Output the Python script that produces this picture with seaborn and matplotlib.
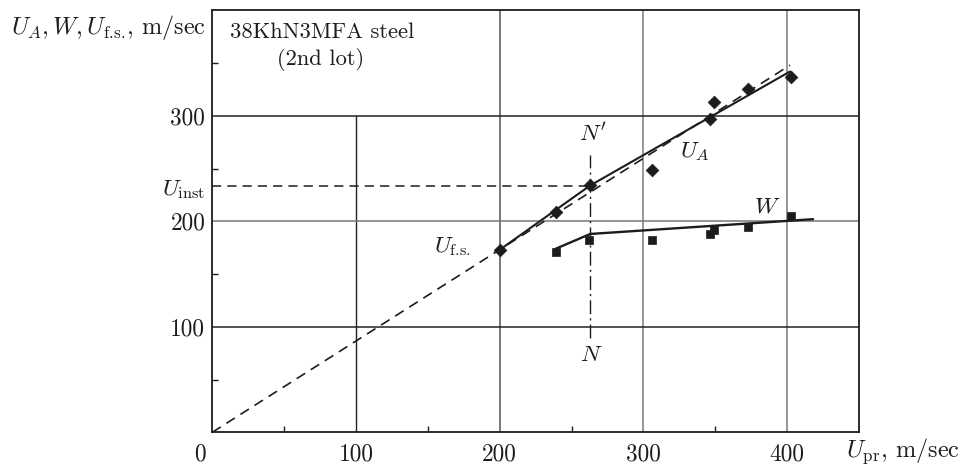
import matplotlib
matplotlib.use("Agg")
import matplotlib.pyplot as plt
import seaborn as sns
import pandas as pd

# Measured points: U_A (diamonds) and W (squares) against projectile velocity
ua_x = [200, 239, 263, 306, 346, 349, 373, 403]
ua_y = [173, 209, 234, 249, 297, 313, 325, 337]
w_x = [239, 262, 306, 346, 349, 373, 403]
w_y = [171, 182, 182, 188, 192, 195, 205]

# Fitted curves
ua_fit_x = [200, 263, 402]
ua_fit_y = [173, 234, 342]
w_fit_x = [239, 263, 418]
w_fit_y = [174, 188, 202]
ufs_x = [0, 402]
ufs_y = [0, 348]

u_inst = 233
n_x = 263
n_span = [89, 263]

x_ticks = [100, 200, 300, 400]
y_ticks = [100, 200, 300]
minor_ticks = [50, 150, 250, 350]

sns.set_theme(style="ticks")
plt.rcParams["font.family"] = ["cmr10", "DejaVu Serif"]
plt.rcParams["mathtext.fontset"] = "cm"
plt.rcParams["axes.formatter.use_mathtext"] = True

ink = "#1c1c1c"
fs = 16.8
fs_sub = r"U_{\text{f.s.}}"

fig = plt.figure(figsize=(9.65, 4.68), dpi=100)
ax = fig.add_axes([212.3 / 965, 1 - 432.3 / 468, (859 - 212.3) / 965, (432.3 - 10.3) / 468])
ax.set_xlim(0, 450)
ax.set_ylim(0, 400)

# Grid
ax.plot([100, 100], [0, 300], color="#222222", lw=1.0, zorder=1)
for gx, c in zip([200, 300, 400], ["#555555", "#7a7a7a", "#7a7a7a"]):
    ax.axvline(gx, color=c, lw=1.1, zorder=1)
for gy, c in zip([100, 200, 300], ["#222222", "#777777", "#222222"]):
    ax.axhline(gy, color=c, lw=1.1, zorder=1)

# Free-surface velocity line and instability level
ufs_df = pd.DataFrame({"x": ufs_x, "y": ufs_y})
sns.lineplot(data=ufs_df, x="x", y="y", ax=ax, color=ink, lw=1.2,
             dashes=False, linestyle=(0, (6, 4)), zorder=2)
ax.plot([0, n_x], [u_inst, u_inst], color=ink, lw=1.1, linestyle=(0, (6, 4)), zorder=2)
ax.plot([n_x, n_x], n_span, color=ink, lw=1.0, linestyle=(0, (10, 3, 1.5, 3)), zorder=2)

# Fitted solid lines
sns.lineplot(x=ua_fit_x, y=ua_fit_y, ax=ax, color=ink, lw=1.5, sort=False, zorder=3)
sns.lineplot(x=w_fit_x, y=w_fit_y, ax=ax, color=ink, lw=1.7, sort=False, zorder=3)

# Data points
sns.scatterplot(x=ua_x, y=ua_y, ax=ax, marker="D", s=42, color=ink, edgecolor=ink,
                linewidth=0.5, zorder=4)
sns.scatterplot(x=w_x, y=w_y, ax=ax, marker="s", s=40, color=ink, edgecolor=ink,
                linewidth=0.5, zorder=4)

# Axes styling
for sp in ax.spines.values():
    sp.set_color(ink)
    sp.set_linewidth(1.3)
ax.set_xticks(x_ticks)
ax.set_xticklabels([str(v) for v in x_ticks])
ax.set_yticks(y_ticks + [u_inst])
ax.set_yticklabels([str(v) for v in y_ticks] + [r"$U_{\rm inst}$"])
ax.set_xticks(minor_ticks, minor=True)
ax.set_yticks(minor_ticks, minor=True)
ax.tick_params(which="major", length=0, labelsize=fs, colors=ink)
ax.tick_params(axis="x", which="major", pad=8)
ax.tick_params(axis="y", which="major", pad=5)
ax.tick_params(which="minor", direction="in", length=4, width=1.0, color=ink)
ax.set_xlabel("")
ax.set_ylabel("")

# Origin label
ax.annotate("0", xy=(0, 0), xytext=(-9, -8), textcoords="offset points",
            ha="center", va="top", fontsize=fs, color=ink, annotation_clip=False)

# Curve and point labels
ax.text(336, 266, r"$U_A$", fontsize=fs, ha="center", va="center", color=ink)
ax.text(386, 214, r"$W$", fontsize=fs, ha="center", va="center", color=ink)
ax.text(167, 176, "$" + fs_sub + "$", fontsize=fs, ha="center", va="center", color=ink)
ax.text(265, 283, r"$N'$", fontsize=fs, ha="center", va="center", color=ink)
ax.text(264, 73, r"$N$", fontsize=fs, ha="center", va="center", color=ink)

ax.text(12, 379, "38KhN3MFA steel", fontsize=16.2, ha="left", va="center", color=ink)
ax.text(75, 353, "(2nd lot)", fontsize=16.2, ha="center", va="center", color=ink)

# Axis titles
fig.text(206 / 965, 1 - 27 / 468, r"$U_A, W, " + fs_sub + "$, m/sec", fontsize=17.5,
         ha="right", va="center", color=ink)
fig.text(846 / 965, 1 - 451 / 468, r"$U_{\rm pr}$, m/sec", fontsize=17.5,
         ha="left", va="center", color=ink)

fig.savefig("out.png", dpi=100, facecolor="white")
